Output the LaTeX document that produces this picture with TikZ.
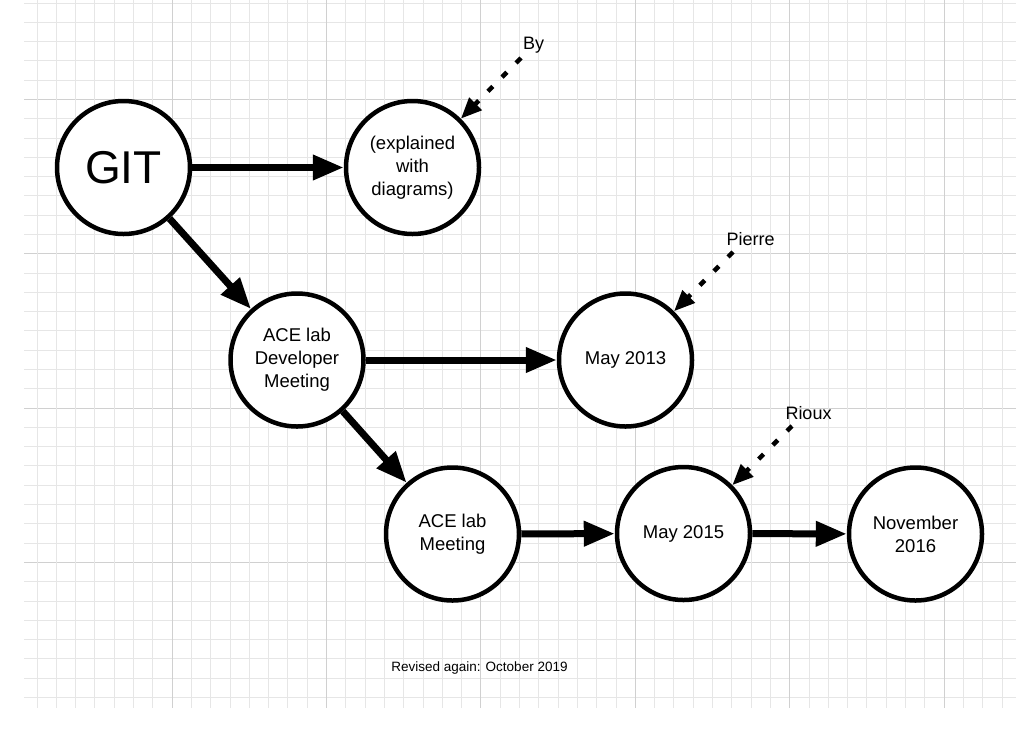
\documentclass[tikz,border=0pt]{standalone}
\usepackage{fontspec}
\setmainfont{Liberation Sans}
\usetikzlibrary{arrows.meta}
\definecolor{gridminor}{HTML}{E6E6E6}
\definecolor{gridmajor}{HTML}{D0D0D0}
\begin{document}
\begin{tikzpicture}[x=1pt,y=-1pt,
  event/.style={circle,draw=black,line width=4.5pt,fill=white,minimum size=133pt,
    inner sep=0pt,align=center,text=black,font=\fontsize{18.5pt}{23pt}\selectfont},
  bigevent/.style={event,font=\fontsize{46pt}{50pt}\selectfont},
  flow/.style={line width=7pt,-{Triangle[length=31pt,width=24pt]}},
  hint/.style={line width=4.5pt,dash pattern=on 7pt off 13pt,-{Triangle[length=21pt,width=17pt]}},
  label/.style={inner sep=0pt,font=\fontsize{18pt}{22pt}\selectfont},
  minorline/.style={draw=gridminor,line width=1pt},
  majorline/.style={draw=gridmajor,line width=1pt}]
\useasboundingbox (0,0) rectangle (1024,732);
\fill[white] (0,0) rectangle (1024,732);
% grid
\foreach \j in {0,...,36}{
  \pgfmathtruncatemacro{\m}{mod(\j+3,8)}
  \ifnum\m=0 \draw[majorline] (24,{3+19.29*\j}) -- (1016,{3+19.29*\j});
  \else \draw[minorline] (24,{3+19.29*\j}) -- (1016,{3+19.29*\j}); \fi
}
\foreach \k in {0,...,50}{
  \pgfmathtruncatemacro{\m}{mod(\k+1,8)}
  \ifnum\m=0 \draw[majorline] ({37+19.3*\k},0) -- ({37+19.3*\k},708);
  \else \draw[minorline] ({37+19.3*\k},0) -- ({37+19.3*\k},708); \fi
}
% nodes
\node[bigevent] (git) at (123.5,167.5) {GIT};
\node[event] (expl) at (412.5,167.5) {(explained\\with\\diagrams)};
\node[event] (dev) at (297,360) {ACE lab\\Developer\\Meeting};
\node[event] (may13) at (625.5,360) {May 2013};
\node[event] (meet) at (452.5,534) {ACE lab\\Meeting};
\node[event] (may15) at (683.5,533.5) {May 2015};
\node[event] (nov) at (915.5,534) {November\\2016};
\node[label] (by) at (533.5,45) {By};
\node[label] (pierre) at (750.5,239) {Pierre};
\node[label] (rioux) at (808.5,413) {Rioux};
\node[inner sep=0pt,font=\fontsize{13.5pt}{16pt}\selectfont] (rev) at (479.5,668) {Revised again: October 2019};
\coordinate (byS) at (521,58);
\coordinate (pierreS) at (733,252);
\coordinate (riouxS) at (792,426);
% connectors
\draw[flow] (git) -- (expl);
\draw[flow] (git) -- (dev);
\draw[flow] (dev) -- (may13);
\draw[flow] (dev) -- (meet);
\draw[flow] (meet) -- (may15);
\draw[flow] (may15) -- (nov);
\draw[hint] (byS) -- (expl);
\draw[hint] (pierreS) -- (may13);
\draw[hint] (riouxS) -- (may15);
\end{tikzpicture}
\end{document}
